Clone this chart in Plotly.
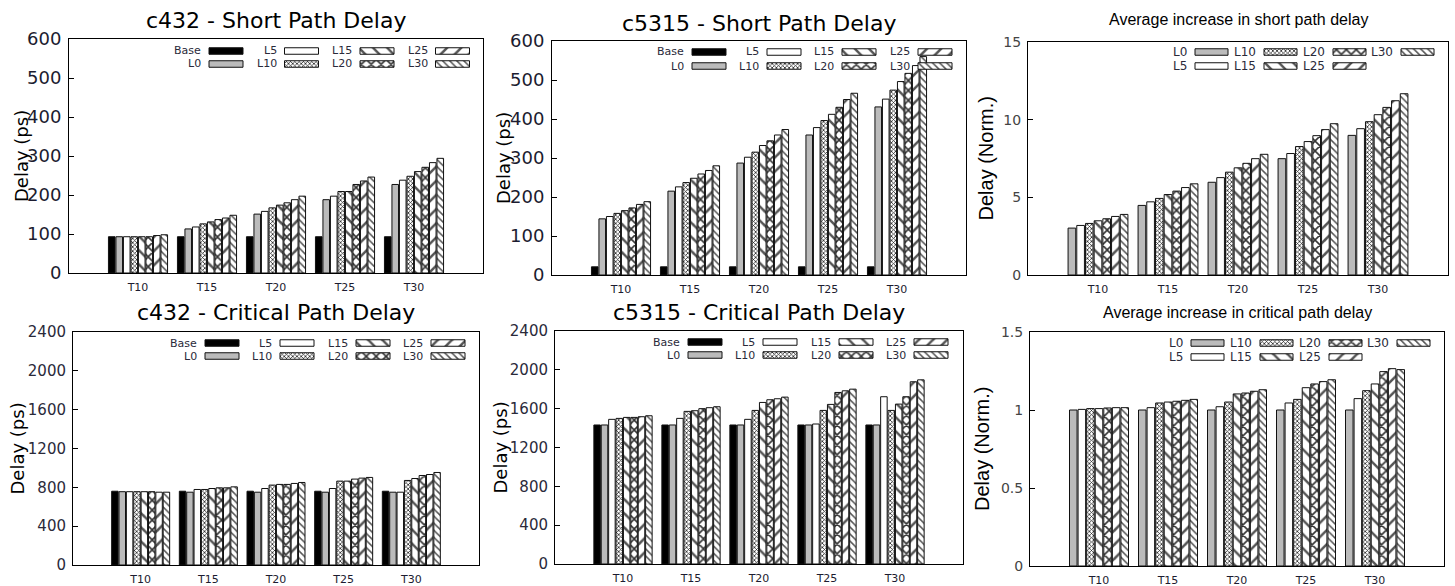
import plotly.graph_objects as go

# ---------------- data ----------------
categories = ["T10", "T15", "T20", "T25", "T30"]
series_all = ["Base", "L0", "L5", "L10", "L15", "L20", "L25", "L30"]
series_avg = ["L0", "L5", "L10", "L15", "L20", "L25", "L30"]

# c432 - Short Path Delay (ps)
c432_short_base = [93, 93, 93, 93, 93]
c432_short_l0 = [93, 113, 151, 188, 227]
c432_short_l5 = [93, 118, 158, 197, 238]
c432_short_l10 = [93, 126, 167, 209, 248]
c432_short_l15 = [93, 131, 174, 209, 260]
c432_short_l20 = [93, 137, 180, 227, 271]
c432_short_l25 = [96, 141, 188, 236, 283]
c432_short_l30 = [98, 148, 197, 246, 294]

# c5315 - Short Path Delay (ps)
c5315_short_base = [21, 21, 21, 21, 21]
c5315_short_l0 = [144, 215, 287, 359, 431]
c5315_short_l5 = [150, 226, 302, 378, 451]
c5315_short_l10 = [158, 237, 315, 396, 474]
c5315_short_l15 = [165, 248, 332, 412, 496]
c5315_short_l20 = [172, 259, 344, 430, 517]
c5315_short_l25 = [181, 268, 359, 450, 537]
c5315_short_l30 = [188, 280, 373, 466, 560]

# Average increase in short path delay (normalised)
avg_short_l0 = [3.02, 4.48, 5.97, 7.49, 8.99]
avg_short_l5 = [3.19, 4.71, 6.27, 7.82, 9.42]
avg_short_l10 = [3.32, 4.93, 6.62, 8.27, 9.87]
avg_short_l15 = [3.49, 5.18, 6.90, 8.59, 10.32]
avg_short_l20 = [3.62, 5.40, 7.19, 8.97, 10.79]
avg_short_l25 = [3.77, 5.63, 7.49, 9.36, 11.22]
avg_short_l30 = [3.90, 5.87, 7.77, 9.74, 11.67]

# c432 - Critical Path Delay (ps)
c432_crit_base = [760, 760, 760, 760, 760]
c432_crit_l0 = [755, 750, 750, 750, 750]
c432_crit_l5 = [755, 778, 788, 788, 750]
c432_crit_l10 = [755, 778, 823, 864, 871]
c432_crit_l15 = [755, 788, 830, 864, 891]
c432_crit_l20 = [755, 795, 830, 885, 922]
c432_crit_l25 = [750, 795, 840, 895, 932]
c432_crit_l30 = [750, 805, 850, 902, 953]

# c5315 - Critical Path Delay (ps)
c5315_crit_base = [1432, 1432, 1432, 1432, 1432]
c5315_crit_l0 = [1432, 1432, 1432, 1432, 1432]
c5315_crit_l5 = [1490, 1500, 1490, 1442, 1723]
c5315_crit_l10 = [1500, 1572, 1582, 1582, 1582]
c5315_crit_l15 = [1510, 1579, 1664, 1644, 1647]
c5315_crit_l20 = [1510, 1600, 1692, 1767, 1723]
c5315_crit_l25 = [1517, 1610, 1702, 1784, 1877]
c5315_crit_l30 = [1527, 1620, 1719, 1801, 1897]

# Average increase in critical path delay (normalised)
avg_crit_l0 = [1.0, 1.0, 1.0, 1.0, 1.0]
avg_crit_l5 = [1.004, 1.015, 1.021, 1.045, 1.073]
avg_crit_l10 = [1.009, 1.045, 1.051, 1.068, 1.124]
avg_crit_l15 = [1.009, 1.051, 1.103, 1.143, 1.167]
avg_crit_l20 = [1.013, 1.056, 1.109, 1.167, 1.246]
avg_crit_l25 = [1.015, 1.062, 1.120, 1.182, 1.265]
avg_crit_l30 = [1.015, 1.068, 1.130, 1.194, 1.259]

titles = ["c432 - Short Path Delay", "c5315 - Short Path Delay",
          "Average increase in short path delay",
          "c432 - Critical Path Delay", "c5315 - Critical Path Delay",
          "Average increase in critical path delay"]
ylabels = ["Delay (ps)", "Delay (ps)", "Delay (Norm.)",
           "Delay (ps)", "Delay (ps)", "Delay (Norm.)"]

# ---------------- styles ----------------
W, H = 1455, 586
GN = "DejaVu Sans"
AR = "Liberation Sans, Arial"
OUT = "#111111"


def style(name):
    base = dict(line=dict(color=OUT, width=1))
    pat = None
    color = "white"
    if name == "Base":
        color = "black"
    elif name == "L0":
        color = "#bbbbbb"
    elif name == "L5":
        color = "white"
    elif name == "L10":
        pat = dict(shape="x", size=3, solidity=0.45, fgcolor="#222222")
    elif name == "L15":
        pat = dict(shape="\\", size=10, solidity=0.25, fgcolor="#555555")
    elif name == "L20":
        pat = dict(shape="x", size=7, solidity=0.4, fgcolor="#333333")
    elif name == "L25":
        pat = dict(shape="/", size=10, solidity=0.25, fgcolor="#555555")
    elif name == "L30":
        pat = dict(shape="\\", size=5, solidity=0.3, fgcolor="#555555")
    base["color"] = color
    if pat:
        pat.update(bgcolor="white", fillmode="replace")
        base["pattern"] = pat
    return base


panels = [
    dict(series=series_all,
         vals=[c432_short_base, c432_short_l0, c432_short_l5, c432_short_l10,
               c432_short_l15, c432_short_l20, c432_short_l25, c432_short_l30],
         box=(69, 39, 483, 273), yr=[0, 600], dtick=100, tfs=18, tcol="#1c1c30",
         tfont=GN, titlefs=22, titley=21, labx=22, labfs=18, labfont=GN,
         leg_cols=[209, 284.5, 360, 435.5], leg_rows=[51, 64], leg_w=34, legfs=11,
         leg_order=[["Base", "L0"], ["L5", "L10"], ["L15", "L20"], ["L25", "L30"]]),
    dict(series=series_all,
         vals=[c5315_short_base, c5315_short_l0, c5315_short_l5, c5315_short_l10,
               c5315_short_l15, c5315_short_l20, c5315_short_l25, c5315_short_l30],
         box=(552, 41, 966, 275), yr=[0, 600], dtick=100, tfs=18, tcol="#1c1c30",
         tfont=GN, titlefs=22, titley=23, labx=503, labfs=18, labfont=GN,
         leg_cols=[692, 767, 842, 918], leg_rows=[52, 66], leg_w=34, legfs=11,
         leg_order=[["Base", "L0"], ["L5", "L10"], ["L15", "L20"], ["L25", "L30"]]),
    dict(series=series_avg,
         vals=[avg_short_l0, avg_short_l5, avg_short_l10, avg_short_l15,
               avg_short_l20, avg_short_l25, avg_short_l30],
         box=(1028, 42, 1448, 275), yr=[0, 15], dtick=5, tfs=14, tcol="#444444",
         tfont=GN, titlefs=16, titley=20, labx=985, labfs=20, labfont=AR,
         leg_cols=[1195, 1264, 1333, 1401], leg_rows=[52, 66], leg_w=33, legfs=12,
         leg_order=[["L0", "L5"], ["L10", "L15"], ["L20", "L25"], ["L30"]]),
    dict(series=series_all,
         vals=[c432_crit_base, c432_crit_l0, c432_crit_l5, c432_crit_l10,
               c432_crit_l15, c432_crit_l20, c432_crit_l25, c432_crit_l30],
         box=(73, 332, 479, 565), yr=[0, 2400], dtick=400, tfs=15, tcol="#2a2a3a",
         tfont=GN, titlefs=22, titley=312, labx=17, labfs=18, labfont=GN,
         leg_cols=[205, 280, 356, 431], leg_rows=[343, 356], leg_w=34, legfs=11,
         leg_order=[["Base", "L0"], ["L5", "L10"], ["L15", "L20"], ["L25", "L30"]]),
    dict(series=series_all,
         vals=[c5315_crit_base, c5315_crit_l0, c5315_crit_l5, c5315_crit_l10,
               c5315_crit_l15, c5315_crit_l20, c5315_crit_l25, c5315_crit_l30],
         box=(555, 331, 963, 564), yr=[0, 2400], dtick=400, tfs=15, tcol="#2a2a3a",
         tfont=GN, titlefs=22, titley=312, labx=500, labfs=18, labfont=GN,
         leg_cols=[688, 763, 839, 914], leg_rows=[342, 355], leg_w=34, legfs=11,
         leg_order=[["Base", "L0"], ["L5", "L10"], ["L15", "L20"], ["L25", "L30"]]),
    dict(series=series_avg,
         vals=[avg_crit_l0, avg_crit_l5, avg_crit_l10, avg_crit_l15,
               avg_crit_l20, avg_crit_l25, avg_crit_l30],
         box=(1030, 332, 1444, 566), yr=[0, 1.5], dtick=0.5, tfs=14, tcol="#444444",
         tfont=GN, titlefs=16, titley=312, labx=982, labfs=20, labfont=AR,
         leg_cols=[1191, 1260, 1329, 1397], leg_rows=[343, 357], leg_w=33, legfs=12,
         leg_order=[["L0", "L5"], ["L10", "L15"], ["L20", "L25"], ["L30"]]),
]

fig = go.Figure()
annotations = []
layout_axes = {}

for i, p in enumerate(panels, start=1):
    sx = "" if i == 1 else str(i)
    x0, y0, x1, y1 = p["box"]
    for name, vals in zip(p["series"], p["vals"]):
        fig.add_trace(go.Bar(x=categories, y=vals, name=name,
                             xaxis="x" + sx, yaxis="y" + sx,
                             marker=style(name), showlegend=False,
                             hovertemplate=name + " %{x}: %{y}<extra></extra>"))
    layout_axes["xaxis" + sx] = dict(
        domain=[x0 / W, x1 / W], anchor="y" + sx, type="category",
        range=[-1, 5], showline=True, mirror=True, linecolor="black",
        linewidth=1, ticks="", showgrid=False, zeroline=False,
        automargin=False,
        tickfont=dict(family=GN, size=11, color="#1c1c30"),
        ticklabelstandoff=4, fixedrange=True)
    layout_axes["yaxis" + sx] = dict(
        domain=[1 - y1 / H, 1 - y0 / H], anchor="x" + sx,
        range=p["yr"], dtick=p["dtick"], tick0=0, showline=True, mirror=True,
        linecolor="black", linewidth=1, ticks="inside", ticklen=5,
        tickcolor="black", showgrid=False, zeroline=False, automargin=False,
        tickfont=dict(family=p["tfont"], size=p["tfs"], color=p["tcol"]),
        ticklabelstandoff=3, fixedrange=True)
    # title
    annotations.append(dict(
        text=titles[i - 1], x=(x0 + x1) / 2 / W,
        y=1 - p["titley"] / H, xref="paper", yref="paper",
        xanchor="center", yanchor="middle", showarrow=False,
        font=dict(family=GN if p["titlefs"] > 18 else AR,
                  size=p["titlefs"], color="black")))
    # y label
    annotations.append(dict(
        text=ylabels[i - 1], x=p["labx"] / W, y=1 - ((y0 + y1) / 2) / H,
        xref="paper", yref="paper", xanchor="center", yanchor="middle",
        textangle=-90, showarrow=False,
        font=dict(family=p["labfont"], size=p["labfs"], color="black")))
    # legend (drawn on overlay pixel axes)
    for col, names in zip(p["leg_cols"], p["leg_order"]):
        for row, name in zip(p["leg_rows"], names):
            fig.add_trace(go.Bar(
                y=[row], x=[p["leg_w"]], base=[col], orientation="h",
                width=[6.5], offset=[-3.25], xaxis="x7", yaxis="y7",
                marker=style(name), showlegend=False, hoverinfo="skip"))
            annotations.append(dict(
                text=name, x=(col - 6) / W, y=1 - row / H, xref="paper",
                yref="paper", xanchor="right", yanchor="middle",
                showarrow=False,
                font=dict(family=GN, size=p["legfs"], color="#2a2a3a")))

layout_axes["xaxis7"] = dict(domain=[0, 1], range=[0, W], anchor="y7",
                             visible=False, fixedrange=True, automargin=False)
layout_axes["yaxis7"] = dict(domain=[0, 1], range=[H, 0], anchor="x7",
                             visible=False, fixedrange=True, automargin=False)

fig.update_layout(
    template="none",
    width=W, height=H, margin=dict(l=0, r=0, t=0, b=0, pad=0),
    autosize=False,
    paper_bgcolor="white", plot_bgcolor="rgba(0,0,0,0)",
    font=dict(family=GN, color="black"),
    barmode="group", bargap=0.13, bargroupgap=0.12,
    showlegend=False, annotations=annotations, **layout_axes)

fig.write_html(
    "out.html", config=dict(displayModeBar=False),
    post_script="document.body.style.margin='0';"
                "document.documentElement.style.overflow='hidden';")
